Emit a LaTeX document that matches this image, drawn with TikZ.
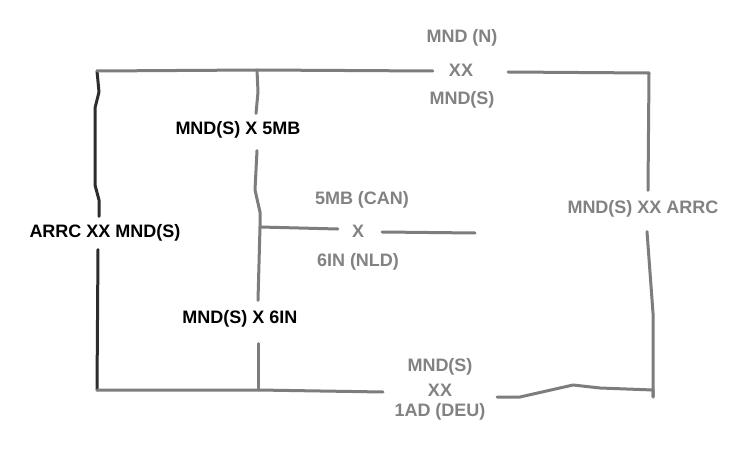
\documentclass[tikz,border=0pt]{standalone}
\usepackage{fontspec}
\setmainfont{Liberation Sans}
\usetikzlibrary{calc}
\definecolor{white}{RGB}{255,255,255}
\definecolor{linegray}{RGB}{125,125,125}
\definecolor{textgray}{RGB}{130,130,130}
\definecolor{darkline}{RGB}{45,45,45}
\tikzset{bnd/.style={draw=linegray,line width=3pt,line cap=round,line join=round}}

\begin{document}
\begin{tikzpicture}[x=1pt,y=-1pt]
\tikzset{lbl/.style={font=\fontsize{18}{21}\selectfont\bfseries,inner sep=0pt}}
\tikzset{glbl/.style={lbl,text=textgray}}
\fill[white] (0,0) rectangle (750,452);
\useasboundingbox (0,0) rectangle (750,452);
% corners and junctions
\coordinate (TL) at (97,71);
\coordinate (TM) at (257,70);
\coordinate (TR) at (649,73);
\coordinate (BL) at (97,390);
\coordinate (BM) at (258,390);
\coordinate (BR) at (653,397);
\coordinate (MJ) at (260,227);
% labels
\node[glbl] (topN) at (462,38) {MND (N)};
\node[glbl] (topXX) at (461,70) {XX};
\node[glbl] (topS) at (462,100) {MND(S)};
\node[lbl] (arrc) at (105,233) {ARRC XX MND(S)};
\node[lbl] (mnd5) at (238,130) {MND(S) X 5MB};
\node[lbl] (mnd6) at (240,319) {MND(S) X 6IN};
\node[glbl] (can) at (362,200) {5MB (CAN)};
\node[glbl] (midX) at (358,231) {X};
\node[glbl] (nld) at (358,262) {6IN (NLD)};
\node[glbl] (rgt) at (643,209) {MND(S) XX ARRC};
\node[glbl] (botS) at (440,367) {MND(S)};
\node[glbl] (botXX) at (440,390) {XX};
\node[glbl] (deu) at (440,412) {1AD (DEU)};
% left boundary
\draw[bnd,draw=darkline] (TL) -- (99,92) -- (95,108) -- (95,185) -- (99,200) -- ($(arrc.north -| 99,0)+(0,-8)$);
\draw[bnd,draw=darkline] ($(arrc.south -| 98,0)+(0,8)$) -- (BL);
% top boundary
\draw[bnd] (TL) -- (TM) -- ($(topXX.west)+(-16,1)$);
\draw[bnd] ($(topXX.east)+(35,2)$) -- (TR);
% middle boundary
\draw[bnd] (TM) -- (258,92) -- ($(mnd5.north -| 256,0)+(0,-8)$);
\draw[bnd] ($(mnd5.south -| 257,0)+(0,12)$) -- (255,190) -- (260,212) -- (MJ) -- ($(mnd6.north -| 258,0)+(0,-10)$);
\draw[bnd] ($(mnd6.south -| 258,0)+(0,16)$) -- (BM);
\draw[bnd] (MJ) -- ($(midX.west)+(-14,-2)$);
\draw[bnd] ($(midX.east)+(18,1)$) -- (475,233);
% right boundary
\draw[bnd] (TR) -- ($(rgt.north -| 648,0)+(0,-10)$);
\draw[bnd] ($(rgt.south -| 647,0)+(0,14)$) -- (653,313) -- (BR);
% bottom boundary
\draw[bnd] (BL) -- (BM) -- (383,392);
\draw[bnd] (497,397) -- (520,397) -- (573,385) -- (600,388) -- (BR |- 0,390) -- (BR);
\end{tikzpicture}
\end{document}
